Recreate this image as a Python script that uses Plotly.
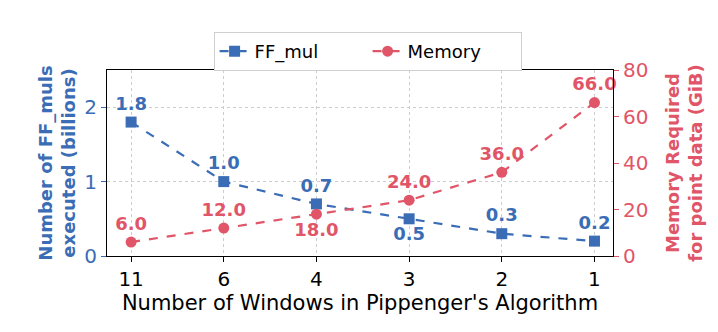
import plotly.graph_objects as go

# Données
fenetres = ["11", "6", "4", "3", "2", "1"]
ff_muls = [1.8, 1.0, 0.7, 0.5, 0.3, 0.2]
memoire = [6.0, 12.0, 18.0, 24.0, 36.0, 66.0]

pos_ff = ["top center", "top center", "top center", "bottom center", "top center", "top center"]
pos_mem = ["top center", "top center", "bottom center", "top center", "top center", "top center"]

bleu = "#3a6db5"
rouge = "#e05567"
police = "DejaVu Sans"

fig = go.Figure()

fig.add_trace(go.Scatter(
    x=fenetres, y=ff_muls, name="FF_mul", mode="lines+markers+text",
    line=dict(color=bleu, width=2.2, dash="dash"),
    marker=dict(symbol="square", size=11, color=bleu),
    text=[f"{v:.1f}" for v in ff_muls], textposition=pos_ff,
    textfont=dict(family=police, size=18, color=bleu, weight="bold"),
    cliponaxis=False,
))

fig.add_trace(go.Scatter(
    x=fenetres, y=memoire, name="Memory", mode="lines+markers+text", yaxis="y2",
    line=dict(color=rouge, width=2.2, dash="dash"),
    marker=dict(symbol="circle", size=11, color=rouge),
    text=[f"{v:.1f}" for v in memoire], textposition=pos_mem,
    textfont=dict(family=police, size=18, color=rouge, weight="bold"),
    cliponaxis=False,
))

# la page ajoute une marge de 8 px autour de la figure
fig.update_layout(
    width=710, height=324,
    margin=dict(l=99, r=105, t=62, b=76, autoexpand=False),
    paper_bgcolor="white", plot_bgcolor="white",
    font=dict(family=police, size=18, color="black"),
    showlegend=True,
    legend=dict(orientation="h", x=0.515, xanchor="center",
                yref="container", y=1 - 24 / 324, yanchor="top",
                bordercolor="#d0d0d0", borderwidth=1, font=dict(size=18),
                entrywidth=108, entrywidthmode="pixels"),
    xaxis=dict(
        type="category", range=[-0.26, 5.2], automargin=False,
        title=dict(text="Number of Windows in Pippenger's Algorithm", font=dict(size=21), standoff=4),
        tickfont=dict(size=20),
        showline=True, linecolor="black", linewidth=1.2, mirror=True,
        ticks="outside", ticklen=5, tickcolor="black",
        showgrid=True, gridcolor="#cccccc", griddash="dot", gridwidth=1,
    ),
    yaxis=dict(
        range=[0, 2.5], tickvals=[0, 1, 2], automargin=False,
        title=dict(text="<b>Number of FF_muls<br>executed (billions)</b>", font=dict(size=18, color=bleu), standoff=3),
        tickfont=dict(color=bleu, size=20),
        showline=True, linecolor="black", linewidth=1.2, mirror=True,
        ticks="outside", ticklen=5, tickcolor=bleu,
        showgrid=True, gridcolor="#cccccc", griddash="dot", gridwidth=1,
        zeroline=False,
    ),
    yaxis2=dict(
        range=[0, 80], tickvals=[0, 20, 40, 60, 80], overlaying="y", side="right", automargin=False,
        title=dict(text="<b>Memory Required<br>for point data (GiB)</b>", font=dict(size=18, color=rouge), standoff=18),
        tickfont=dict(color=rouge, size=20),
        ticks="outside", ticklen=5, tickcolor=rouge,
        showgrid=False, zeroline=False,
    ),
)

fig.write_html("out.html")
